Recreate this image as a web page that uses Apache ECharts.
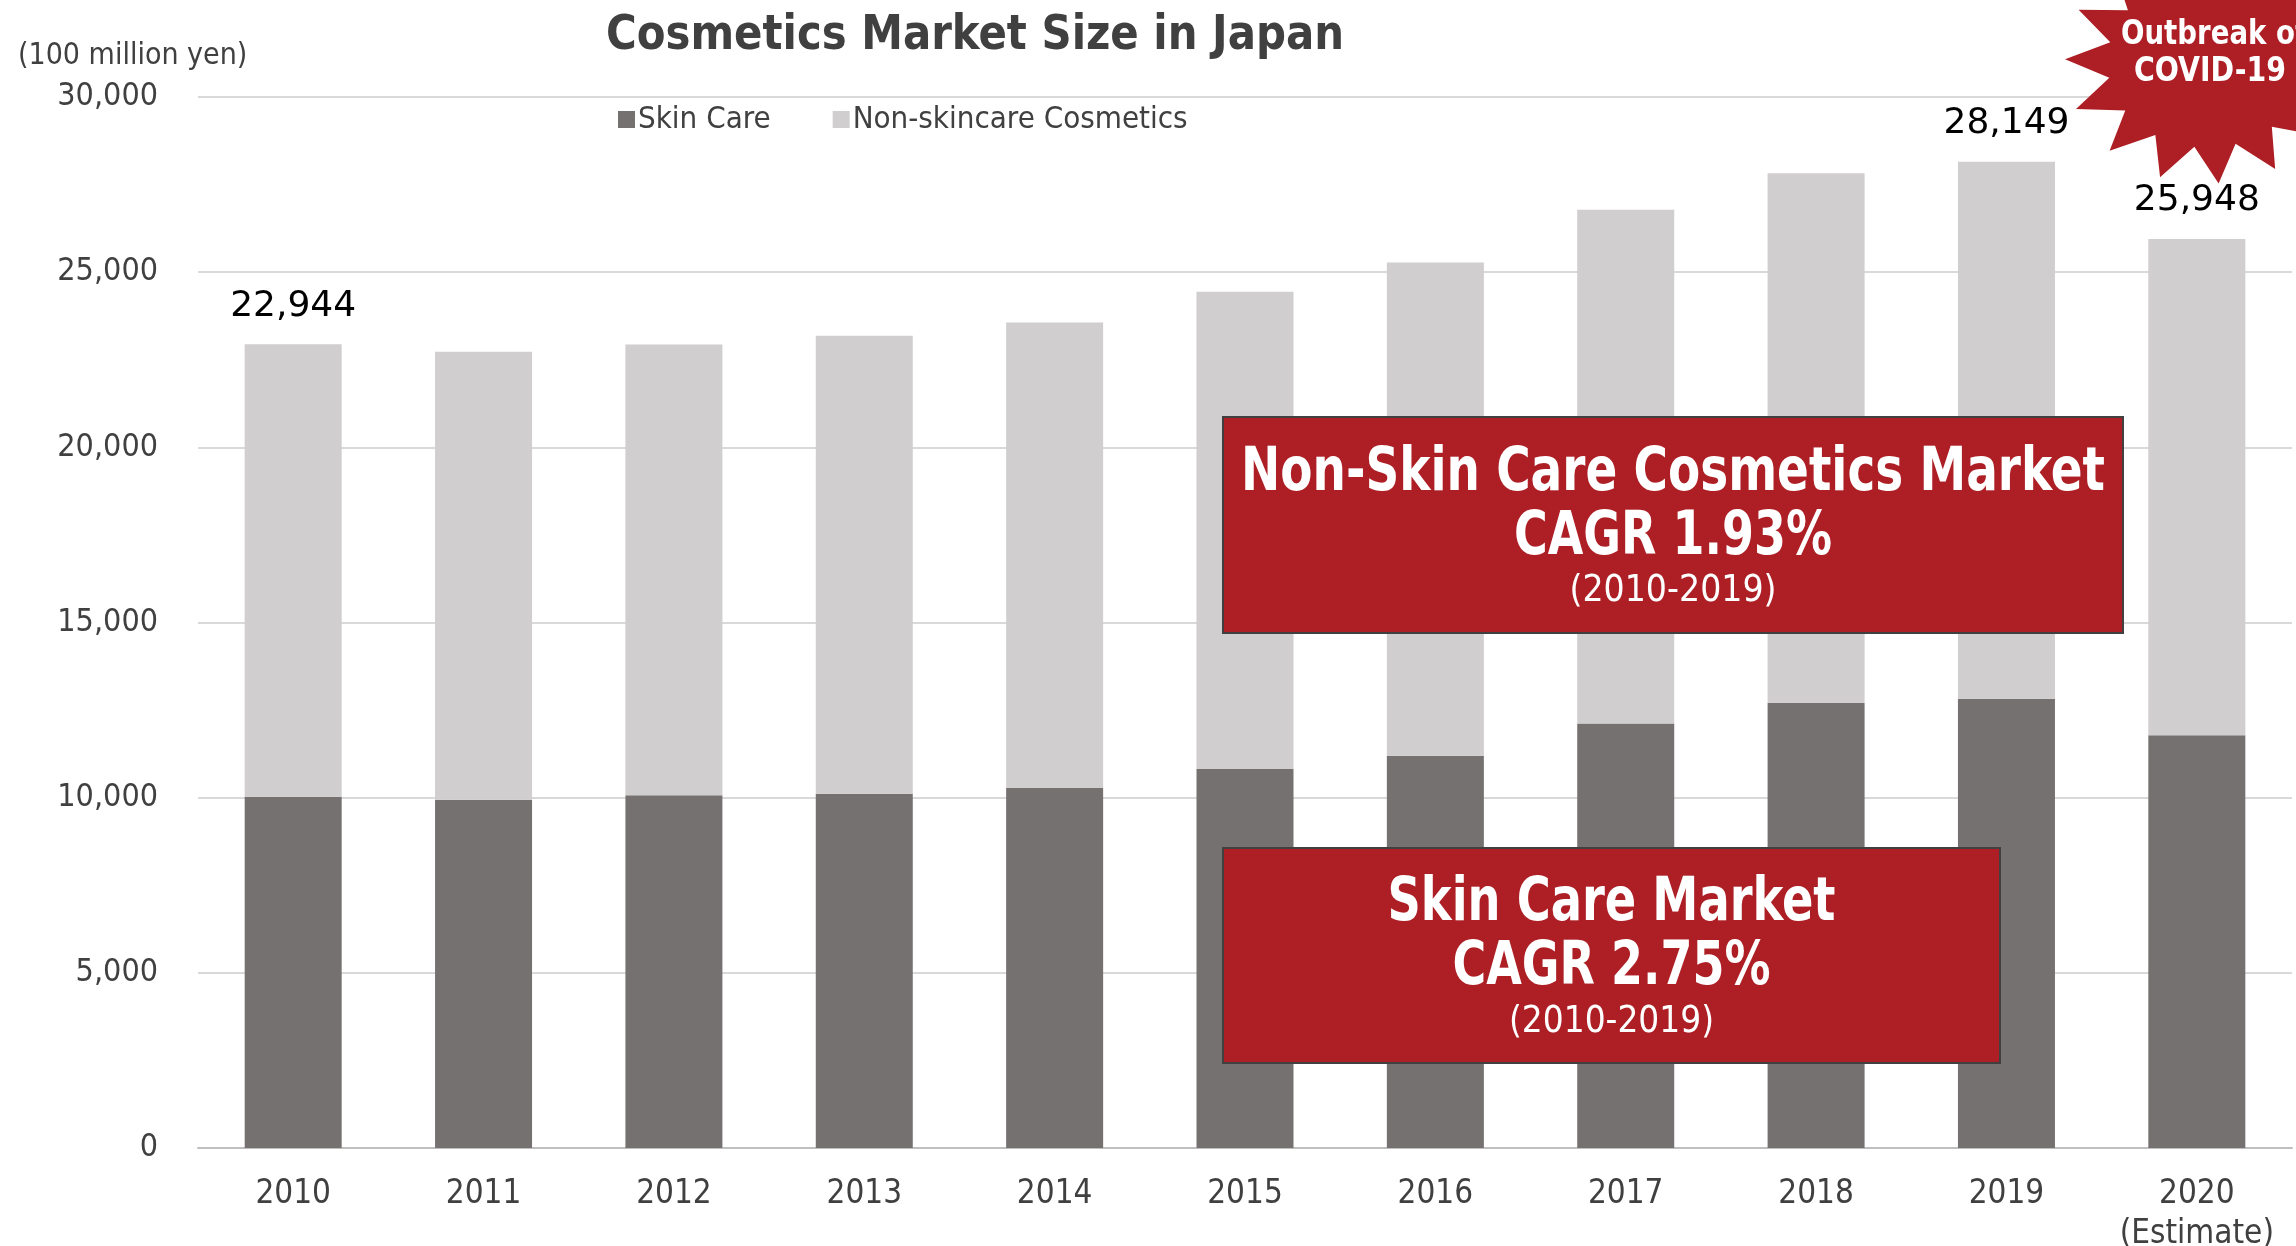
<!DOCTYPE html>
<html>
<head>
<meta charset="utf-8">
<script src="https://cdn.jsdelivr.net/npm/echarts@6/dist/echarts.min.js"></script>
<style>
  html, body { margin: 0; padding: 0; background: #ffffff; }
  #chart { width: 2296px; height: 1246px; }
</style>
</head>
<body>
<div id="chart"></div>
<script>
// Cosmetics market size in Japan, 100 million yen
const years = ['2010', '2011', '2012', '2013', '2014', '2015', '2016', '2017', '2018', '2019', '2020'];
const yearLabels = ['2010', '2011', '2012', '2013', '2014', '2015', '2016', '2017', '2018', '2019', '2020\n(Estimate)'];
const skinCare = [10028, 9944, 10069, 10111, 10278, 10821, 11197, 12116, 12701, 12827, 11782];
const nonSkincare = [12916, 12785, 12869, 13077, 13286, 13621, 14080, 14666, 15125, 15322, 14166];
const totalLabelYears = ['2010', '2019', '2020'];
const yTicks = [0, 5000, 10000, 15000, 20000, 25000, 30000];

const NARROW = "'DejaVu Sans Condensed', 'DejaVu Sans', sans-serif";
const RED = '#ad1f25';

const chart = echarts.init(document.getElementById('chart'), null, { renderer: 'canvas' });

function fmt(v) { return v.toLocaleString('en-US'); }

// horizontal squeeze so a tall bold line fits a given width
const measureCtx = document.createElement('canvas').getContext('2d');
function squeeze(text, font, width) {
  measureCtx.font = font;
  return Math.min(1, width / measureCtx.measureText(text).width);
}

// Explosion-shaped badge polygon
function starPoints(cx, cy, rx, ry, inner, n, rot) {
  const pts = [];
  for (let i = 0; i < n * 2; i++) {
    const a = rot + Math.PI * i / n;
    const k = i % 2 === 0 ? 1 : inner;
    pts.push([cx + Math.cos(a) * rx * k, cy + Math.sin(a) * ry * k]);
  }
  return pts;
}

function squeezedText(text, x, y, font, width, fill, z) {
  return {
    type: 'text', x: x, y: y, z: z, scaleX: squeeze(text, font, width),
    style: { text: text, fill: fill, font: font, textAlign: 'center', textVerticalAlign: 'middle' }
  };
}

function box(x, y, w, h, lines) {
  const cx = x + w / 2;
  const items = [{
    type: 'rect', z: 100, shape: { x: x, y: y, width: w, height: h },
    style: { fill: RED, stroke: '#404040', lineWidth: 2 }
  }];
  lines.forEach(l => items.push(squeezedText(l.text, cx, l.y, l.font, l.width, '#ffffff', 101)));
  return items;
}

const option = {
  animation: false,
  backgroundColor: '#ffffff',
  grid: { left: 198, right: 4, top: 97, bottom: 98, containLabel: false, outerBoundsMode: 'none' },
  legend: {
    top: 99, left: 613,
    itemWidth: 17, itemHeight: 17, itemGap: 62,
    icon: 'rect',
    textStyle: { fontFamily: NARROW, fontSize: 31, color: '#404040', padding: [0, 0, 0, -2] },
    data: ['Skin Care', 'Non-skincare Cosmetics']
  },
  xAxis: {
    type: 'category',
    data: yearLabels,
    axisTick: { show: false },
    axisLine: { lineStyle: { color: '#bfbfbf', width: 2 } },
    axisLabel: { interval: 0, fontFamily: NARROW, fontSize: 33, color: '#404040', margin: 26, lineHeight: 40 }
  },
  yAxis: {
    type: 'value',
    min: yTicks[0], max: yTicks[yTicks.length - 1], interval: 5000,
    axisLine: { show: false },
    axisTick: { show: false },
    splitLine: { lineStyle: { color: '#d9d9d9', width: 2 } },
    axisLabel: { fontFamily: NARROW, fontSize: 32, color: '#404040', margin: 40, formatter: v => fmt(v) }
  },
  series: [
    {
      name: 'Skin Care', type: 'bar', stack: 'total', barWidth: 97,
      itemStyle: { color: '#767171' },
      data: skinCare
    },
    {
      name: 'Non-skincare Cosmetics', type: 'bar', stack: 'total', barWidth: 97,
      itemStyle: { color: '#d0cece' },
      label: {
        show: true, position: 'top', distance: 20,
        fontFamily: "'DejaVu Sans', sans-serif", fontSize: 36, color: '#000000',
        formatter: p => totalLabelYears.includes(years[p.dataIndex])
          ? fmt(skinCare[p.dataIndex] + nonSkincare[p.dataIndex]) : ''
      },
      data: nonSkincare
    }
  ],
  graphic: [
    squeezedText('Cosmetics Market Size in Japan', 975, 37, 'bold 48px ' + NARROW, 738, '#404040', 100),
    {
      type: 'text', x: 18, y: 56, z: 100,
      style: { text: '(100 million yen)', fill: '#404040',
        font: "30px " + NARROW, textAlign: 'left', textVerticalAlign: 'middle' }
    },
    {
      type: 'polygon', z: 100,
      shape: { points: starPoints(2207, 62, 142, 122, 0.7, 15, -2.7) },
      style: { fill: RED }
    },
    squeezedText('Outbreak of', 2214, 35, 'bold 33px ' + NARROW, 186, '#ffffff', 101),
    squeezedText('COVID-19', 2210, 72, 'bold 33px ' + NARROW, 152, '#ffffff', 101)
  ].concat(
    box(1223, 417, 900, 216, [
      { text: 'Non-Skin Care Cosmetics Market', y: 474, font: 'bold 60px ' + NARROW, width: 864 },
      { text: 'CAGR 1.93%', y: 538, font: 'bold 60px ' + NARROW, width: 318 },
      { text: '(2010-2019)', y: 591, font: '38px ' + NARROW, width: 207 }
    ]),
    box(1223, 848, 777, 215, [
      { text: 'Skin Care Market', y: 904, font: 'bold 60px ' + NARROW, width: 448 },
      { text: 'CAGR 2.75%', y: 968, font: 'bold 60px ' + NARROW, width: 318 },
      { text: '(2010-2019)', y: 1022, font: '38px ' + NARROW, width: 205 }
    ])
  )
};

chart.setOption(option);
</script>
</body>
</html>
